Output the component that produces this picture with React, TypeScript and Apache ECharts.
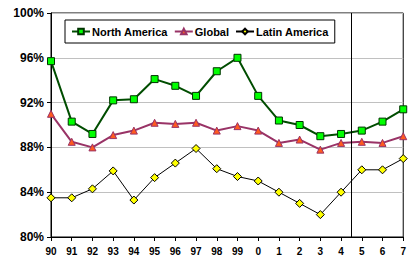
import React, { useEffect, useRef } from "react";
import * as echarts from "echarts";

const xLabels = ["90", "91", "92", "93", "94", "95", "96", "97", "98", "99", "0", "1", "2", "3", "4", "5", "6", "7"];
const northAmerica = [95.7, 90.3, 89.2, 92.2, 92.3, 94.1, 93.5, 92.6, 94.8, 96.0, 92.6, 90.4, 90.0, 89.0, 89.2, 89.5, 90.3, 91.4];
const global = [91.0, 88.5, 88.0, 89.1, 89.5, 90.2, 90.1, 90.2, 89.5, 89.9, 89.5, 88.4, 88.7, 87.8, 88.4, 88.5, 88.4, 89.0];
const latinAmerica = [83.5, 83.5, 84.3, 85.9, 83.3, 85.3, 86.6, 87.9, 86.1, 85.4, 85.0, 84.0, 83.0, 82.0, 84.0, 86.0, 86.0, 87.0];
const dividerAt = 14.5;

const FONT = "'Liberation Sans', Arial, sans-serif";

export default function App() {
  const ref = useRef<HTMLDivElement>(null);
  useEffect(() => {
    if (!ref.current) return;
    document.body.style.margin = "0";
    document.body.style.overflow = "hidden";
    const chart = echarts.init(ref.current, null, { renderer: "svg" });
    const toPairs = (arr: number[]) => arr.map((v, i) => [i, v]);
    chart.setOption({
      animation: false,
      textStyle: { fontFamily: FONT },
      grid: {
        left: 51,
        right: 3,
        top: 13,
        bottom: 23,
        show: true,
        borderColor: "#000",
        borderWidth: 1,
        backgroundColor: "transparent",
      },
      legend: {
        left: 65,
        top: 20,
        borderColor: "#000",
        borderWidth: 1,
        backgroundColor: "#fff",
        padding: [6, 6],
        itemGap: 6,
        itemWidth: 18,
        itemHeight: 7,
        textStyle: { fontFamily: FONT, fontSize: 11, fontWeight: "bold", color: "#000", padding: [0, 0, 0, -3] },
        data: ["North America", "Global", "Latin America"],
      },
      xAxis: {
        type: "value",
        min: 0,
        max: xLabels.length - 1,
        interval: 1,
        axisLine: { show: true, lineStyle: { color: "#000", width: 1 } },
        axisTick: { show: true, length: 4, lineStyle: { color: "#000" } },
        splitLine: { show: false },
        axisLabel: {
          formatter: (v: number) => xLabels[Math.round(v)] ?? "",
          fontFamily: FONT,
          fontSize: 10,
          fontWeight: "bold",
          color: "#000",
          margin: 9,
          showMinLabel: true,
          showMaxLabel: true,
          hideOverlap: false,
        },
      },
      yAxis: {
        type: "value",
        min: 80,
        max: 100,
        interval: 4,
        axisLine: { show: true, lineStyle: { color: "#000", width: 1 } },
        axisTick: { show: true, length: 4, lineStyle: { color: "#000" } },
        splitLine: { show: true, lineStyle: { color: "#c0c0c0", width: 1 } },
        axisLabel: {
          formatter: "{value}%",
          fontFamily: FONT,
          fontSize: 12,
          fontWeight: "bold",
          color: "#000",
          margin: 7,
        },
      },
      series: [
        {
          name: "North America",
          type: "line",
          data: toPairs(northAmerica),
          symbol: "rect",
          symbolSize: 7,
          showAllSymbol: true,
          lineStyle: { color: "#004d00", width: 2 },
          itemStyle: { color: "#00ff00", borderColor: "#003300", borderWidth: 1 },
          z: 3,
        },
        {
          name: "Global",
          type: "line",
          data: toPairs(global),
          symbol: "triangle",
          symbolSize: 7,
          showAllSymbol: true,
          lineStyle: { color: "#993366", width: 2 },
          itemStyle: { color: "#ff5a1f", borderColor: "#993366", borderWidth: 1 },
          z: 3,
        },
        {
          name: "Latin America",
          type: "line",
          data: toPairs(latinAmerica),
          symbol: "diamond",
          symbolSize: 8,
          showAllSymbol: true,
          lineStyle: { color: "#000", width: 1 },
          itemStyle: { color: "#ffff00", borderColor: "#000", borderWidth: 1 },
          z: 3,
          markLine: {
            silent: true,
            symbol: "none",
            label: { show: false },
            lineStyle: { color: "#000", type: "solid", width: 1 },
            data: [{ xAxis: dividerAt }],
          },
        },
      ],
    });
    return () => chart.dispose();
  }, []);
  return <div ref={ref} style={{ position: "absolute", left: 0, top: 0, width: 409, height: 260 }} />;
}
